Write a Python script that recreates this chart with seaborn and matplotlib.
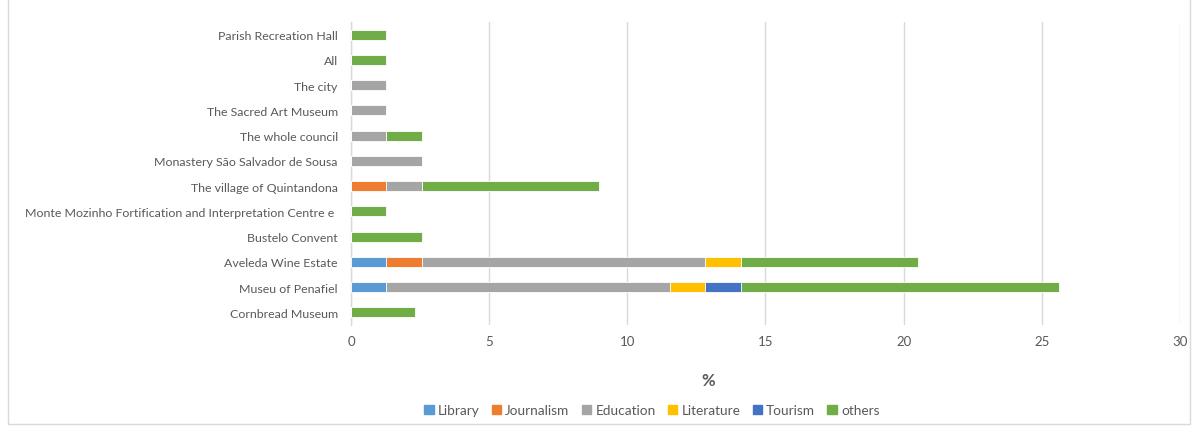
import matplotlib
matplotlib.use("Agg")
import matplotlib.pyplot as plt
from matplotlib.patches import Rectangle
import numpy as np
import pandas as pd
import seaborn as sns

# Places, listed top to bottom
places = [
    "Parish Recreation Hall",
    "All",
    "The city",
    "The Sacred Art Museum",
    "The whole council",
    "Monastery São Salvador de Sousa",
    "The village of Quintandona",
    "Monte Mozinho Fortification and Interpretation Centre e ",
    "Bustelo Convent",
    "Aveleda Wine Estate",
    "Museu of Penafiel",
    "Cornbread Museum",
]

# Share of mentions (%) per area, same order as places
library    = [0, 0, 0, 0, 0, 0, 0, 0, 0, 1.28, 1.28, 0]
journalism = [0, 0, 0, 0, 0, 0, 1.28, 0, 0, 1.28, 0, 0]
education  = [0, 0, 1.28, 1.28, 1.28, 2.56, 1.28, 0, 0, 10.26, 10.26, 0]
literature = [0, 0, 0, 0, 0, 0, 0, 0, 0, 1.28, 1.28, 0]
tourism    = [0, 0, 0, 0, 0, 0, 0, 0, 0, 0, 1.28, 0]
others     = [1.28, 1.28, 0, 0, 1.28, 0, 6.41, 1.28, 2.56, 6.41, 11.54, 2.33]

series_names = ["Library", "Journalism", "Education", "Literature", "Tourism", "others"]
series_values = [library, journalism, education, literature, tourism, others]
series_colors = ["#5B9BD5", "#ED7D31", "#A5A5A5", "#FFC000", "#4472C4", "#70AD47"]

x_ticks = [0, 5, 10, 15, 20, 25, 30]

sns.set_theme(style="white")
plt.rcParams["font.family"] = ["Lato", "DejaVu Sans"]
text_color = "#595959"

fig = plt.figure(figsize=(11.96, 4.27), dpi=100)
ax = fig.add_axes([0.2935, 0.2365, 0.693, 0.7095])

# Stacked bars: draw cumulative totals from the outermost layer inward
cum = np.cumsum(np.array(series_values, dtype=float), axis=0)
for i in range(len(series_names) - 1, -1, -1):
    df = pd.DataFrame({"place": places, "value": cum[i]})
    sns.barplot(data=df, x="value", y="place", orient="h", color=series_colors[i],
                width=0.4, saturation=1, ax=ax, zorder=3 + (len(series_names) - i) * 0.01,
                linewidth=0.6, edgecolor="white")

ax.set_xlim(0, 30)
ax.set_xticks(x_ticks)
ax.set_xticklabels([str(t) for t in x_ticks])
ax.set_ylim(len(places) - 0.5, -0.5)
ax.grid(axis="x", color="#D9D9D9", linewidth=1, zorder=0)
ax.set_axisbelow(True)
for s in ["top", "right", "bottom"]:
    ax.spines[s].set_visible(False)
ax.spines["left"].set_color("#D9D9D9")
ax.spines["left"].set_linewidth(1)
ax.tick_params(axis="both", length=0, colors=text_color)
ax.tick_params(axis="y", pad=9.5, labelsize=8.9)
ax.tick_params(axis="x", pad=7.5, labelsize=9.5)
ax.set_ylabel("")
ax.set_xlabel("%", fontsize=12, color=text_color, fontweight="bold")
ax.xaxis.set_label_coords((708 - 351) / 829, -0.155)

handles = [Rectangle((0, 0), 1, 1, color=c) for c in series_colors]
fig.legend(handles, series_names, loc="center", bbox_to_anchor=(0.545, 0.037), ncol=6,
           frameon=False, fontsize=9.8, handlelength=0.7, handleheight=0.7,
           handletextpad=0.3, columnspacing=0.9, labelcolor=text_color)

# Chart border
fig.patches.append(Rectangle((8 / 1196, 2 / 427), 1182 / 1196, 430 / 427,
                             transform=fig.transFigure, fill=False,
                             edgecolor="#D9D9D9", linewidth=1))

fig.savefig("out.png", dpi=100)
